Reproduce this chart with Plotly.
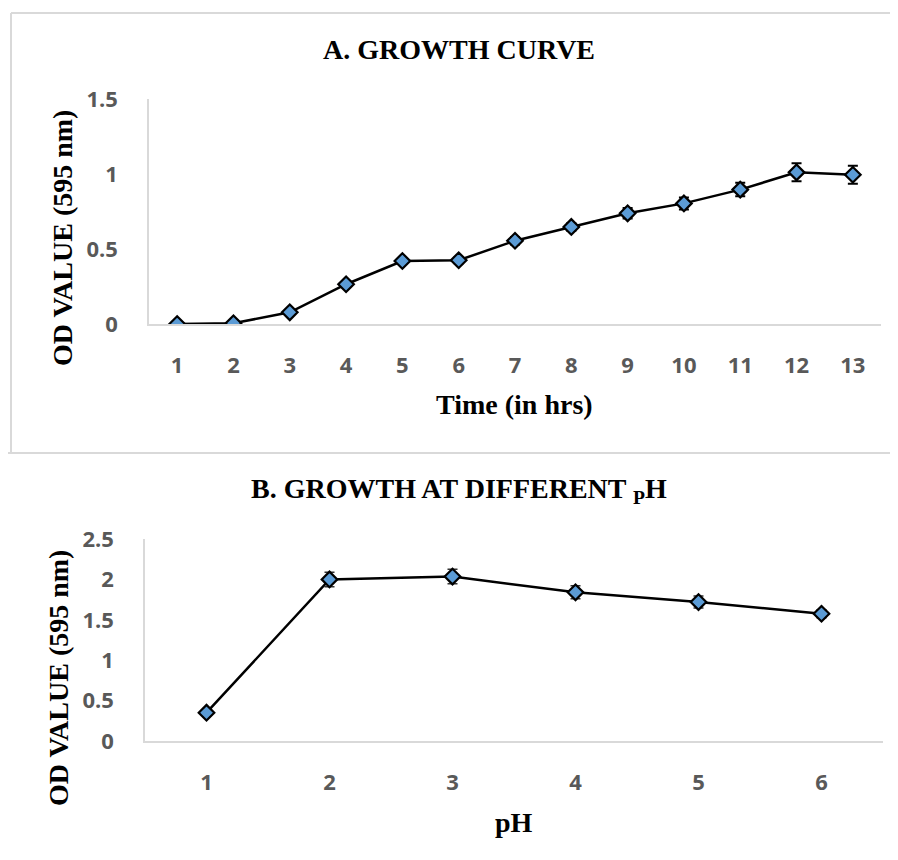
import plotly.graph_objects as go

W, H = 898, 860
OFF = 8  # page body margin in the rendered HTML

# ---- data ----
time_hrs = ["1", "2", "3", "4", "5", "6", "7", "8", "9", "10", "11", "12", "13"]
od_time = [0.0, 0.005, 0.078, 0.265, 0.42, 0.425, 0.555, 0.647, 0.738, 0.804, 0.896, 1.011, 0.995]
od_time_err = [0.01, 0.01, 0.015, 0.02, 0.02, 0.02, 0.025, 0.025, 0.035, 0.04, 0.045, 0.06, 0.06]

ph_values = ["1", "2", "3", "4", "5", "6"]
od_ph = [0.35, 2.0, 2.035, 1.84, 1.72, 1.575]
od_ph_err = [0.03, 0.09, 0.09, 0.08, 0.075, 0.05]

title_a = "A. GROWTH CURVE"
title_b = "B. GROWTH AT DIFFERENT <sub>P</sub>H"
ytitle = "OD VALUE (595 nm)"
xtitle_a = "Time (in hrs)"
xtitle_b = "pH"

FILL = "#5B9BD5"
TICKC = "#595959"
AXC = "#D9D9D9"
SERIF = "Liberation Serif, Times New Roman, serif"
SANS = "Open Sans, Calibri, sans-serif"


def px_x(p):
    return (p - OFF) / W


def px_y(p):
    return 1 - (p - OFF) / H


fig = go.Figure()

marker = dict(symbol="diamond", size=12, color=FILL, line=dict(color="black", width=2.2))

fig.add_trace(go.Scatter(
    x=time_hrs, y=od_time, mode="lines+markers",
    line=dict(color="black", width=2.5), marker=marker,
    error_y=dict(type="data", array=od_time_err, color="black", thickness=2, width=5),
    xaxis="x", yaxis="y", showlegend=False))

fig.add_trace(go.Scatter(
    x=ph_values, y=od_ph, mode="lines+markers",
    line=dict(color="black", width=2.5), marker=marker,
    error_y=dict(type="data", array=od_ph_err, color="#333333", thickness=1.5, width=5),
    xaxis="x2", yaxis="y2", showlegend=False))

tickfont = dict(family=SANS, size=22, color=TICKC, weight="bold")

common_x = dict(type="category", showgrid=False, zeroline=False, showline=True,
                linecolor=AXC, linewidth=1.5, ticks="", tickfont=tickfont,
                ticklabelstandoff=21, fixedrange=True, automargin=False)
common_y = dict(showgrid=False, zeroline=False, showline=True, linecolor=AXC,
                linewidth=1.5, ticks="", tickfont=tickfont, ticklabelstandoff=25,
                fixedrange=True, automargin=False)

fig.update_layout(
    template="none",
    width=W, height=H, autosize=False,
    margin=dict(l=0, r=0, t=0, b=0, pad=0),
    paper_bgcolor="white", plot_bgcolor="white",
    xaxis=dict(domain=[px_x(149), px_x(881)], range=[-0.5, 12.5], anchor="y", **common_x),
    yaxis=dict(domain=[px_y(324), px_y(99)], range=[0, 1.5], tickvals=[0, 0.5, 1, 1.5],
               ticktext=["0", "0.5", "1", "1.5"], anchor="x", **common_y),
    xaxis2=dict(domain=[px_x(145), px_x(883)], range=[-0.5, 5.5], anchor="y2", **common_x),
    yaxis2=dict(domain=[px_y(741), px_y(539)], range=[0, 2.5],
                tickvals=[0, 0.5, 1, 1.5, 2, 2.5],
                ticktext=["0", "0.5", "1", "1.5", "2", "2.5"], anchor="x2", **common_y),
)

titlefont = dict(family=SERIF, size=28, color="black", weight="bold")
axfont = dict(family=SERIF, size=28, color="black", weight="bold")

annots = [
    dict(text=title_a, x=px_x(459), y=px_y(49), font=titlefont),
    dict(text=title_b, x=px_x(459), y=px_y(491), font=titlefont),
    dict(text=xtitle_a, x=px_x(515), y=px_y(404), font=axfont),
    dict(text=xtitle_b, x=px_x(514), y=px_y(822), font=axfont),
    dict(text=ytitle, x=px_x(62), y=px_y(238), font=axfont, textangle=-90),
    dict(text=ytitle, x=px_x(58), y=px_y(678), font=axfont, textangle=-90),
]
for a in annots:
    fig.add_annotation(xref="paper", yref="paper", showarrow=False,
                       xanchor="center", yanchor="middle", **a)

border = dict(color=AXC, width=2)
shapes = [
    (11, 13, 906, 13), (11, 13, 11, 453),
    (7, 453, 906, 453), (7, 453, 7, 868),
]
for x0, y0, x1, y1 in shapes:
    fig.add_shape(type="line", xref="paper", yref="paper",
                  x0=px_x(x0), y0=px_y(y0), x1=px_x(x1), y1=px_y(y1), line=border)

fig.write_html("out.html")
